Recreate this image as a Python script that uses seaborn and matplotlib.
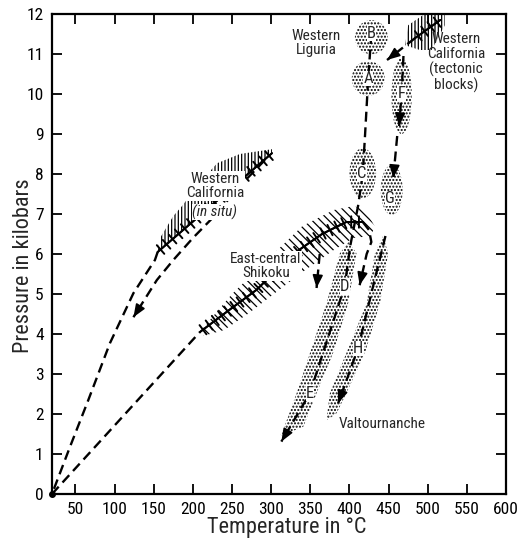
import numpy as np
import matplotlib
matplotlib.use("Agg")
import matplotlib.pyplot as plt
import seaborn as sns
from matplotlib import font_manager as fm
from matplotlib.patches import Polygon, Ellipse
from matplotlib import patheffects as pe

# ---------------- data ----------------
x_ticks = [50, 100, 150, 200, 250, 300, 350, 400, 450, 500, 550, 600]
y_ticks = list(range(0, 13))

# Western California (in situ)
insitu_line_T = [155, 301]
insitu_line_P = [6.05, 8.52]
insitu_zone_T = [155, 301, 301, 260, 231, 205, 187, 175, 158]
insitu_zone_P = [6.05, 8.52, 8.62, 8.5, 8.27, 7.7, 7.22, 6.95, 6.4]
insitu_burial_T = [155, 151.5, 124, 94, 66.4, 43, 20]
insitu_burial_P = [6.05, 5.85, 5.02, 3.77, 2.35, 1.18, 0.0]
insitu_return_T = [292, 260, 225, 200, 175, 154, 124]
insitu_return_P = [8.35, 7.7, 6.9, 6.4, 5.85, 5.35, 4.42]

# East-central Shikoku
shikoku_burial_T = [20, 209]
shikoku_burial_P = [0.0, 4.05]
shikoku_line_T = [209, 245, 281, 310, 337, 365, 396, 417]
shikoku_line_P = [4.05, 4.58, 5.1, 5.65, 6.12, 6.5, 6.8, 6.8]
shikoku_zone_T = [213, 250, 300, 340, 380, 405, 420, 432,
                  428, 405, 380, 340, 300, 270, 240, 213]
shikoku_zone_P = [4.15, 5.0, 5.95, 6.7, 7.1, 7.2, 7.1, 6.7,
                  6.45, 6.4, 6.1, 5.55, 4.95, 4.5, 4.1, 3.95]
shikoku_exit1_T = [362, 358]
shikoku_exit1_P = [6.0, 5.15]
shikoku_exit2_T = [417, 425, 428, 422, 413]
shikoku_exit2_P = [6.8, 6.6, 6.3, 6.0, 5.22]

# Western Liguria (B -> A -> C -> D -> E)
liguria_T = [428, 424, 420, 417, 411, 401, 394, 349.5, 313]
liguria_P = [11.5, 10.4, 9.0, 8.0, 7.2, 6.2, 5.2, 2.52, 1.31]
de_zone_T = [399, 409, 398.4, 379, 358, 341, 311,
             315.4, 332.5, 349.5, 370.8, 387.8]
de_zone_P = [6.3, 6.02, 4.77, 3.52, 2.52, 1.68, 1.45,
             1.6, 2.52, 3.52, 4.77, 6.02]

# Western California (tectonic blocks): F -> G -> H
tb_line_T = [484, 516]
tb_line_P = [11.4, 11.85]
tb_zone_T = [471, 475, 496, 522, 522, 505, 490]
tb_zone_P = [11.22, 11.72, 12.0, 12.0, 11.72, 11.1, 11.1]
tb_arrow_T = [484, 448]
tb_arrow_P = [11.4, 10.85]
f_path_T = [469, 466.6, 463.5]
f_path_P = [10.95, 10.0, 9.2]
g_path_T = [461, 456]
g_path_P = [8.95, 7.9]
h_path_T = [446, 430, 411, 385.6]
h_path_P = [6.45, 5.18, 3.64, 2.27]
h_zone_T = [443, 449.5, 439, 419.7, 396, 383.6, 372,
            371, 375, 396, 422, 432.5]
h_zone_P = [6.45, 6.02, 4.77, 3.52, 2.52, 2.02, 1.85,
            1.93, 2.52, 3.52, 4.77, 6.02]

# sample regions (stippled)
sample_T = [428, 424, 417, 466.6, 454]
sample_P = [11.42, 10.39, 8.02, 9.95, 7.6]
sample_dT = [42, 42, 34, 26, 28]
sample_dP = [0.85, 0.87, 1.25, 1.9, 1.25]

letters = ["A", "B", "C", "D", "E", "F", "G", "H"]
letter_T = [424, 428, 415.5, 394, 349.5, 466.6, 451.7, 411]
letter_P = [10.39, 11.52, 8.02, 5.18, 2.52, 10.02, 7.39, 3.64]

# ---------------- style ----------------
sns.set_theme(style="ticks")
names = {f.name for f in fm.fontManager.ttflist}
narrow = None
for cand in ["Liberation Sans Narrow", "Roboto Condensed", "Open Sans Condensed"]:
    if cand in names:
        narrow = cand
        break
if narrow is None:
    for f in fm.fontManager.ttflist:
        if f.name == "DejaVu Sans" and f.stretch in ("condensed", "semi-condensed"):
            narrow = "DejaVu Sans"
            break
if narrow is not None:
    fam = [narrow, "DejaVu Sans"]
    sc = 1.0
    stretch = "condensed"
else:
    fam = ["Liberation Sans", "DejaVu Sans"]
    sc = 0.85
    stretch = "normal"
plt.rcParams["font.family"] = fam
plt.rcParams["font.stretch"] = stretch

fig = plt.figure(figsize=(5.31, 5.38), dpi=100)
ax = fig.add_axes([52 / 531, 1 - 494 / 538, 454 / 531, 480 / 538])
ax.set_xlim(20, 600)
ax.set_ylim(0, 12)
ax.set_xticks(x_ticks)
ax.set_yticks(y_ticks)
ax.tick_params(direction="in", length=7, width=1.3, top=True, right=True,
               labelsize=12.5 * sc, pad=6, colors="black")
for s in ax.spines.values():
    s.set_linewidth(1.6)
    s.set_color("black")
    s.set_visible(True)
ax.set_xlabel("Temperature in °C", fontsize=16 * sc)
ax.set_ylabel("Pressure in kilobars", fontsize=16 * sc)
ax.xaxis.set_label_coords(0.518, -0.047)
ax.yaxis.set_label_coords(-0.04, 0.475)

K = "black"
DASH = (0, (4.2, 2.4))
LW = 1.7


def dashed(T, P):
    sns.lineplot(x=T, y=P, sort=False, estimator=None, color=K, lw=LW,
                 linestyle=DASH, ax=ax, zorder=4)


def head(T, P):
    p1 = ax.transData.transform((T[-2], P[-2]))
    p2 = ax.transData.transform((T[-1], P[-1]))
    d = (p2 - p1) / np.hypot(*(p2 - p1))
    off = -d * 5 * 72 / fig.dpi
    ax.annotate("", xy=(T[-1], P[-1]), xytext=(off[0], off[1]),
                textcoords="offset points",
                arrowprops=dict(arrowstyle="-|>,head_length=0.55,head_width=0.22",
                                color=K, lw=1.2, shrinkA=0, shrinkB=0,
                                mutation_scale=14), zorder=6)


def zone(T, P, hatch, hlw):
    plt.rcParams["hatch.linewidth"] = hlw
    plt.rcParams["hatch.color"] = K
    poly = Polygon(np.column_stack([T, P]), closed=True, facecolor="none",
                   edgecolor=K, lw=0, hatch=hatch, zorder=2)
    ax.add_patch(poly)


def ticked(T, P):
    sns.lineplot(x=T, y=P, sort=False, estimator=None, color=K, lw=1.4, ax=ax,
                 zorder=5,
                 path_effects=[pe.withTickedStroke(spacing=5.5, angle=90, length=0.75),
                               pe.withTickedStroke(spacing=5.5, angle=-90, length=0.75)])


STIP = "....."
# stippled zones
zone(de_zone_T, de_zone_P, STIP, 1.0)
zone(h_zone_T, h_zone_P, STIP, 1.0)
plt.rcParams["hatch.linewidth"] = 1.0
for t, p, w, h in zip(sample_T, sample_P, sample_dT, sample_dP):
    ax.add_patch(Ellipse((t, p), w, h, facecolor="none", edgecolor=K, lw=0,
                         hatch=STIP, zorder=2))

# hatched bands
zone(insitu_zone_T, insitu_zone_P, "|||||", 0.9)
zone(tb_zone_T, tb_zone_P, "|||||", 0.9)
zone(shikoku_zone_T, shikoku_zone_P, "\\\\\\\\", 0.9)

ticked(insitu_line_T, insitu_line_P)
ticked(shikoku_line_T, shikoku_line_P)
ticked(tb_line_T, tb_line_P)

for T, P, arrow in [
    (insitu_burial_T, insitu_burial_P, False),
    (insitu_return_T, insitu_return_P, True),
    (shikoku_burial_T, shikoku_burial_P, False),
    (shikoku_exit1_T, shikoku_exit1_P, True),
    (shikoku_exit2_T, shikoku_exit2_P, True),
    (liguria_T, liguria_P, True),
    (tb_arrow_T, tb_arrow_P, True),
    (f_path_T, f_path_P, True),
    (g_path_T, g_path_P, True),
    (h_path_T, h_path_P, True),
]:
    dashed(T, P)
    if arrow:
        head(T, P)

ax.plot([20], [0], "o", color=K, ms=4, zorder=6, clip_on=False)

# point letters
for L, t, p in zip(letters, letter_T, letter_P):
    ax.text(t, p, L, ha="center", va="center", fontsize=12 * sc, zorder=7,
            bbox=dict(boxstyle="square,pad=0.02", fc="white", ec="none"))

# region labels
tk = dict(ha="center", va="center", fontsize=11 * sc, zorder=7, linespacing=1.05)
bb = dict(boxstyle="square,pad=0.05", fc="white", ec="none")
ax.text(358, 11.28, "Western\nLiguria", **tk)
ax.text(536, 10.79, "Western\nCalifornia\n(tectonic\nblocks)", **tk)
ax.text(228, 7.7, "Western\nCalifornia", bbox=bb, **tk)
ax.text(228, 7.05, "(in situ)", style="italic", bbox=bb, **tk)
ax.text(293, 5.7, "East-central\nShikoku", bbox=bb, **tk)
ax.text(385.6, 1.75, "Valtournanche", ha="left", va="center",
        fontsize=11 * sc, zorder=7)

fig.savefig("out.png", dpi=100)
